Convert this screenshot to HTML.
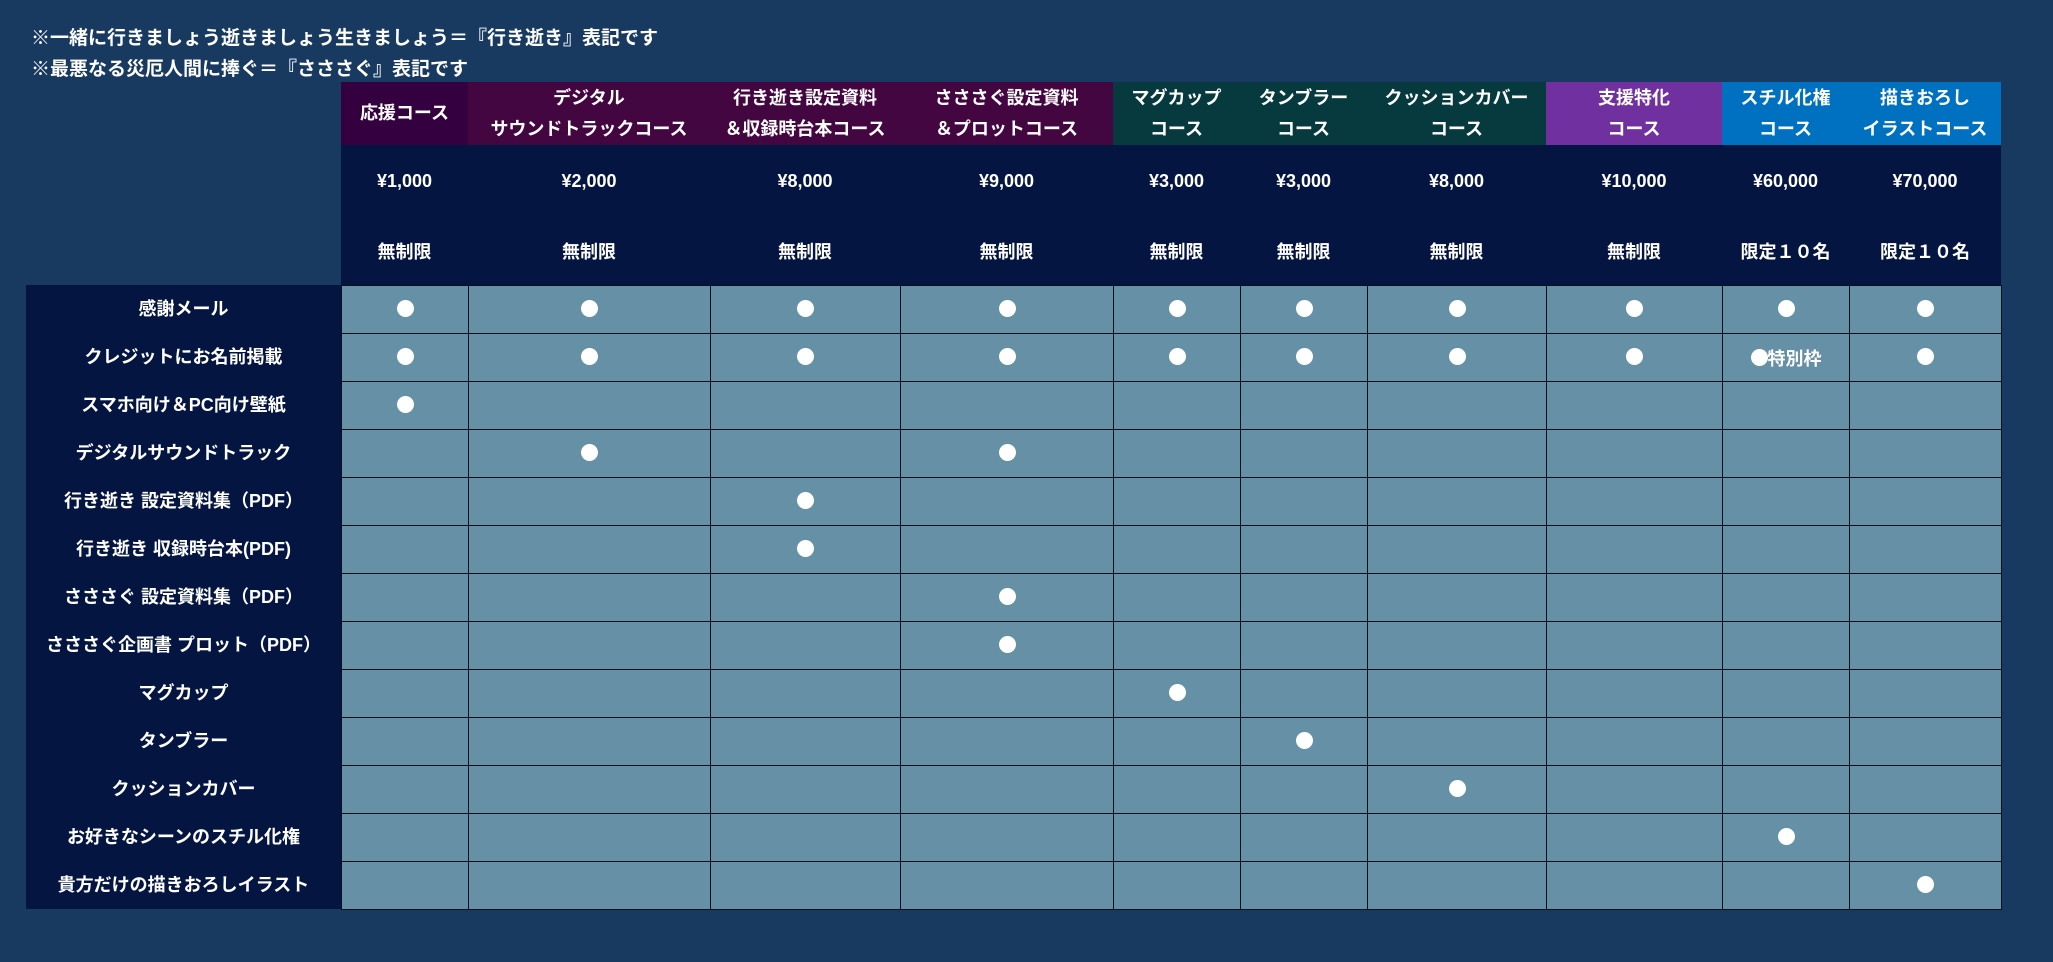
<!DOCTYPE html>
<html><head><meta charset="utf-8"><style>
*{margin:0;padding:0;box-sizing:border-box}
body{width:2053px;height:962px;background:#193a60;position:relative;overflow:hidden;font-family:"Liberation Sans","Noto Sans CJK JP",sans-serif;color:#fff;font-weight:bold}
.t{position:absolute;left:31px;font-size:19px;white-space:nowrap}
table{position:absolute;border-collapse:collapse;table-layout:fixed}
#hd{left:341px;top:82px}
#hd td{text-align:center;font-size:18px;padding:0;vertical-align:middle}
#dt{left:341px;top:285px}
#dt td{background:#6690a5;border:1px solid #0a0f1e;height:48px;text-align:center;vertical-align:middle;font-size:18px}
.d{display:inline-block;width:17px;height:17px;border-radius:50%;background:#fff;vertical-align:middle;position:relative;top:-2px}
#lb{position:absolute;left:26px;top:285px;width:315px;height:624px;background:#041541}
#lb div{height:48px;line-height:48px;text-align:center;font-size:18px}
#pr{position:absolute;left:341px;top:145px;width:1660px;height:140px;background:#041541}
</style></head><body>
<div class="t" style="top:23px">※一緒に行きましょう逝きましょう生きましょう＝『行き逝き』表記です</div>
<div class="t" style="top:54px">※最悪なる災厄人間に捧ぐ＝『さささぐ』表記です</div>
<div id="pr"></div>
<table id="hd">
<colgroup><col style="width:127px"><col style="width:242px"><col style="width:190px"><col style="width:213px"><col style="width:127px"><col style="width:127px"><col style="width:179px"><col style="width:176px"><col style="width:127px"><col style="width:152px"></colgroup>
<tr style="height:63px;line-height:31px">
<td style="background:#34003f">応援コース</td>
<td style="background:#430640">デジタル<br>サウンドトラックコース</td>
<td style="background:#430640">行き逝き設定資料<br>＆収録時台本コース</td>
<td style="background:#430640">さささぐ設定資料<br>＆プロットコース</td>
<td style="background:#063a3e">マグカップ<br>コース</td>
<td style="background:#063a3e">タンブラー<br>コース</td>
<td style="background:#063a3e">クッションカバー<br>コース</td>
<td style="background:#7030a0">支援特化<br>コース</td>
<td style="background:#0070c0">スチル化権<br>コース</td>
<td style="background:#0070c0">描きおろし<br>イラストコース</td></tr>
<tr style="height:72px"><td>¥1,000</td><td>¥2,000</td><td>¥8,000</td><td>¥9,000</td><td>¥3,000</td><td>¥3,000</td><td>¥8,000</td><td>¥10,000</td><td>¥60,000</td><td>¥70,000</td></tr>
<tr style="height:68px"><td>無制限</td><td>無制限</td><td>無制限</td><td>無制限</td><td>無制限</td><td>無制限</td><td>無制限</td><td>無制限</td><td>限定１０名</td><td>限定１０名</td></tr>
</table>
<div id="lb">
<div>感謝メール</div><div>クレジットにお名前掲載</div><div>スマホ向け＆PC向け壁紙</div><div>デジタルサウンドトラック</div><div>行き逝き 設定資料集（PDF）</div><div>行き逝き 収録時台本(PDF)</div><div>さささぐ 設定資料集（PDF）</div><div>さささぐ企画書 プロット（PDF）</div><div>マグカップ</div><div>タンブラー</div><div>クッションカバー</div><div>お好きなシーンのスチル化権</div><div>貴方だけの描きおろしイラスト</div>
</div>
<table id="dt">
<colgroup><col style="width:127px"><col style="width:242px"><col style="width:190px"><col style="width:213px"><col style="width:127px"><col style="width:127px"><col style="width:179px"><col style="width:176px"><col style="width:127px"><col style="width:152px"></colgroup>
<tr><td><i class="d"></i></td><td><i class="d"></i></td><td><i class="d"></i></td><td><i class="d"></i></td><td><i class="d"></i></td><td><i class="d"></i></td><td><i class="d"></i></td><td><i class="d"></i></td><td><i class="d"></i></td><td><i class="d"></i></td></tr>
<tr><td><i class="d"></i></td><td><i class="d"></i></td><td><i class="d"></i></td><td><i class="d"></i></td><td><i class="d"></i></td><td><i class="d"></i></td><td><i class="d"></i></td><td><i class="d"></i></td><td><i class="d"></i>特別枠</td><td><i class="d"></i></td></tr>
<tr><td><i class="d"></i></td><td></td><td></td><td></td><td></td><td></td><td></td><td></td><td></td><td></td></tr>
<tr><td></td><td><i class="d"></i></td><td></td><td><i class="d"></i></td><td></td><td></td><td></td><td></td><td></td><td></td></tr>
<tr><td></td><td></td><td><i class="d"></i></td><td></td><td></td><td></td><td></td><td></td><td></td><td></td></tr>
<tr><td></td><td></td><td><i class="d"></i></td><td></td><td></td><td></td><td></td><td></td><td></td><td></td></tr>
<tr><td></td><td></td><td></td><td><i class="d"></i></td><td></td><td></td><td></td><td></td><td></td><td></td></tr>
<tr><td></td><td></td><td></td><td><i class="d"></i></td><td></td><td></td><td></td><td></td><td></td><td></td></tr>
<tr><td></td><td></td><td></td><td></td><td><i class="d"></i></td><td></td><td></td><td></td><td></td><td></td></tr>
<tr><td></td><td></td><td></td><td></td><td></td><td><i class="d"></i></td><td></td><td></td><td></td><td></td></tr>
<tr><td></td><td></td><td></td><td></td><td></td><td></td><td><i class="d"></i></td><td></td><td></td><td></td></tr>
<tr><td></td><td></td><td></td><td></td><td></td><td></td><td></td><td></td><td><i class="d"></i></td><td></td></tr>
<tr><td></td><td></td><td></td><td></td><td></td><td></td><td></td><td></td><td></td><td><i class="d"></i></td></tr>
</table>
</body></html>
